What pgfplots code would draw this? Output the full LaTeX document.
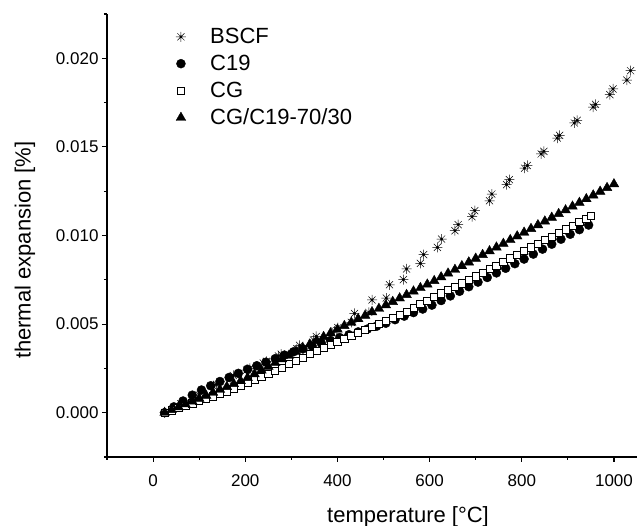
\documentclass[border=0pt]{standalone}
\usepackage{pgfplots}
\pgfplotsset{compat=1.18}
\usepackage{fontspec}
\setmainfont{Liberation Sans}
\usetikzlibrary{calc}

\pgfdeclareplotmark{star8}{%
  \pgfpathmoveto{\pgfqpoint{0pt}{\pgfplotmarksize}}%
  \pgfpathlineto{\pgfqpoint{0pt}{-\pgfplotmarksize}}%
  \pgfpathmoveto{\pgfqpoint{\pgfplotmarksize}{0pt}}%
  \pgfpathlineto{\pgfqpoint{-\pgfplotmarksize}{0pt}}%
  \pgfpathmoveto{\pgfqpoint{0.707\pgfplotmarksize}{0.707\pgfplotmarksize}}%
  \pgfpathlineto{\pgfqpoint{-0.707\pgfplotmarksize}{-0.707\pgfplotmarksize}}%
  \pgfpathmoveto{\pgfqpoint{0.707\pgfplotmarksize}{-0.707\pgfplotmarksize}}%
  \pgfpathlineto{\pgfqpoint{-0.707\pgfplotmarksize}{0.707\pgfplotmarksize}}%
  \pgfusepathqstroke
  \pgfpathcircle{\pgfpointorigin}{0.3\pgfplotmarksize}%
  \pgfusepathqfill
}

\begin{document}
\begin{tikzpicture}
\begin{axis}[
  name=ax,
  scale only axis,
  width=530pt, height=443pt,
  xmin=-100, xmax=1050, ymin=-0.0025, ymax=0.0225,
  axis x line=bottom, axis y line=left,
  axis line style={-, line width=1.1pt},
  xtick={0,200,400,600,800,1000},
  minor xtick={-100,100,300,500,700,900},
  ytick={0,0.005,0.01,0.015,0.02},
  minor ytick={-0.0025,0.0025,0.0075,0.0125,0.0175,0.0225},
  tick align=outside, major tick length=5pt, minor tick length=3pt,
  every tick/.style={line width=1.1pt, black},
  scaled y ticks=false,
  xticklabel style={/pgf/number format/1000 sep={}, yshift=-9pt},
  yticklabel style={/pgf/number format/.cd, fixed, fixed zerofill, precision=3},
  /pgf/number format/assume math mode=true,
  tick label style={font=\fontsize{17}{17}\selectfont},
  xlabel={temperature [°C]}, ylabel={thermal expansion [\%]},
  xlabel style={font=\fontsize{22}{22}\selectfont, at={(axis description cs:0.568,-0.1354)}, anchor=center},
  ylabel style={font=\fontsize{22}{22}\selectfont, at={(axis description cs:-0.155,0.467)}, anchor=center},
  legend style={draw=none, fill=none, at={(axis description cs:0.117,0.977)}, anchor=north west,
    font=\fontsize{22}{22}\selectfont, row sep=6pt},
  legend cell align=left,
  legend image code/.code={\draw[#1] plot coordinates {(0.3cm,0cm)}; \path (0cm,0cm) (1.25cm,0cm);},
]
% BSCF
\addplot[only marks, mark=star8, mark size=5pt, mark options={line width=0.5pt, black}] coordinates {
(25,0.0000) (60,0.0005) (100,0.0010) (131,0.0015) (138,0.0016) (167,0.0019) (174,0.0021)
(203,0.0024) (210,0.0025) (239,0.0028) (246,0.0029) (272,0.0032) (278,0.0033) (312,0.0036)
(318,0.0038) (348,0.0041) (354,0.0043) (394,0.0046) (401,0.0048) (430,0.0051) (437,0.0056)
(468,0.00566) (475,0.00636) (506,0.00647) (513,0.00722) (543,0.00751) (550,0.00811)
(580,0.00843) (587,0.00892) (617,0.00933) (626,0.00980) (655,0.01027) (662,0.01061)
(692,0.01106) (698,0.01140) (730,0.01196) (735,0.01234) (767,0.01287) (773,0.01315)
(806,0.01380) (812,0.01395) (842,0.01460) (848,0.01475) (877,0.01550) (882,0.01565)
(914,0.01635) (920,0.01650) (955,0.01725) (960,0.01740) (991,0.01795) (998,0.01827)
(1028,0.01877) (1036,0.01930)
};
\addlegendentry{BSCF}
% C19
\addplot[only marks, mark=*, mark size=4.5pt, mark options={black, fill=black}] coordinates {
(25,0) (45,0.00033) (65,0.00066) (85,0.00099) (105,0.00128) (125,0.00152) (145,0.00176)
(165,0.00199) (185,0.00222) (205,0.00245) (225,0.00265) (245,0.00285) (265,0.00305)
(285,0.00325) (305,0.00344) (325,0.00360) (345,0.00376) (365,0.00392) (385,0.00408)
(405,0.00424) (425,0.00440) (445,0.00456) (465,0.00472) (485,0.00488) (505,0.00505)
(525,0.00525) (545,0.00545) (565,0.00565) (585,0.00585) (605,0.00607) (625,0.00633)
(645,0.00659) (665,0.00685) (685,0.00711) (705,0.00737) (725,0.00763) (745,0.00789)
(765,0.00815) (785,0.00841) (805,0.00867) (825,0.00895) (845,0.00923) (865,0.00951)
(885,0.00979) (905,0.01007) (925,0.01033) (945,0.01059)
};
\addlegendentry{C19}
% CG
\addplot[only marks, mark=square*, mark size=3.6pt, mark options={black, fill=white, line width=0.7pt}] coordinates {
(25,0) (40,0.00013) (55,0.00026) (70,0.00040) (85,0.00053) (100,0.00066) (115,0.00079)
(130,0.00092) (145,0.00105) (160,0.00118) (175,0.00135) (190,0.00152) (205,0.00169)
(220,0.00186) (235,0.00203) (250,0.00220) (265,0.00237) (280,0.00255) (295,0.00274)
(310,0.00292) (325,0.00311) (340,0.00330) (355,0.00348) (370,0.00365) (385,0.00383)
(400,0.00400) (415,0.00417) (430,0.00434) (445,0.00451) (460,0.00468) (475,0.00486)
(490,0.00503) (505,0.00520) (520,0.00537) (535,0.00554) (550,0.00571) (565,0.00592)
(580,0.00613) (595,0.00633) (610,0.00654) (625,0.00673) (640,0.00692) (655,0.00711)
(670,0.00730) (685,0.00749) (700,0.00769) (715,0.00790) (730,0.00810) (745,0.00830)
(760,0.00851) (775,0.00871) (790,0.00892) (805,0.00912) (820,0.00933) (835,0.00953)
(850,0.00974) (865,0.00994) (880,0.01015) (895,0.01035) (910,0.01055) (925,0.01076)
(940,0.01096) (950,0.01110)
};
\addlegendentry{CG}
% CG/C19-70/30
\addplot[only marks, mark=triangle*, mark size=5.6pt, mark options={black, fill=black}] coordinates {
(25,0) (40,0.00016) (55,0.00032) (70,0.00048) (85,0.00064) (100,0.00080) (115,0.00097)
(130,0.00113) (145,0.00130) (160,0.00146) (175,0.00163) (190,0.00179) (205,0.00197)
(220,0.00218) (235,0.00239) (250,0.00260) (265,0.00281) (280,0.00302) (295,0.00323)
(310,0.00344) (325,0.00365) (340,0.00386) (355,0.00407) (370,0.00428) (385,0.00449)
(400,0.00470) (415,0.00490) (430,0.00509) (445,0.00529) (460,0.00548) (475,0.00568)
(490,0.00587) (505,0.00607) (520,0.00626) (535,0.00646) (550,0.00665) (565,0.00685)
(580,0.00704) (595,0.00724) (610,0.00744) (625,0.00765) (640,0.00786) (655,0.00807)
(670,0.00828) (685,0.00849) (700,0.00870) (715,0.00891) (730,0.00912) (745,0.00933)
(760,0.00954) (775,0.00975) (790,0.00996) (805,0.01017) (820,0.01038) (835,0.01059)
(850,0.01080) (865,0.01101) (880,0.01122) (895,0.01143) (910,0.01164) (925,0.01185)
(940,0.01206) (955,0.01227) (970,0.01248) (985,0.01269) (1000,0.01290)
};
\addlegendentry{CG/C19-70/30}
\end{axis}
\pgfresetboundingbox
\path ($(ax.south west)+(-107pt,-69pt)$) rectangle ($(ax.north east)+(0pt,14pt)$);
\end{tikzpicture}
\end{document}
